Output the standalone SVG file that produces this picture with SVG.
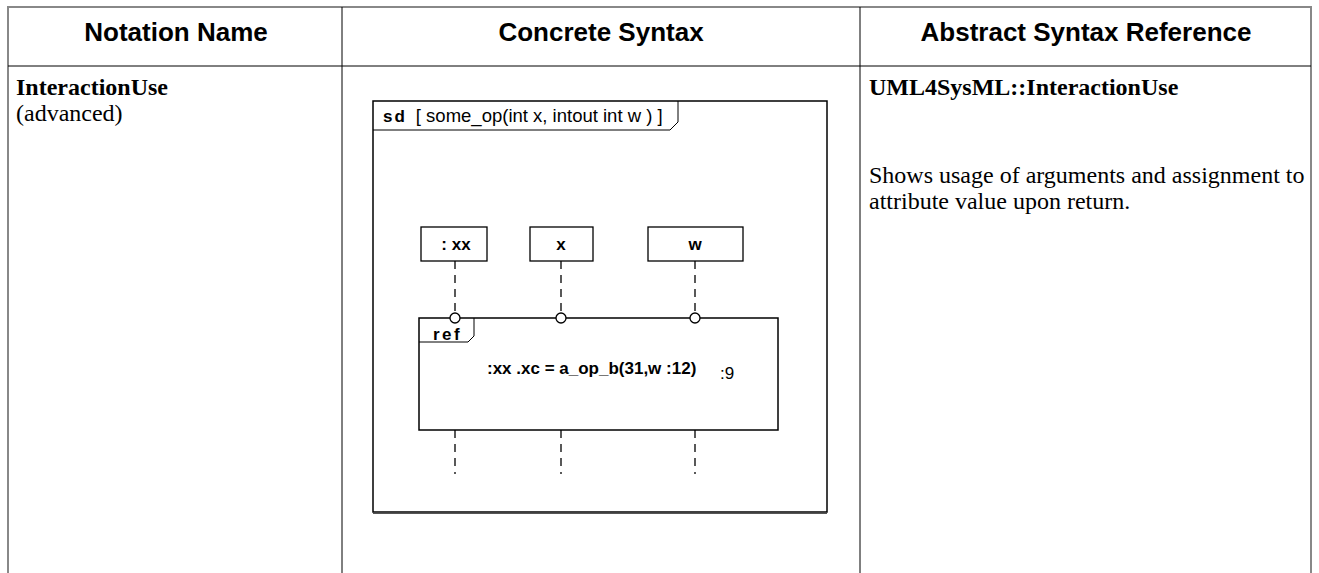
<svg xmlns="http://www.w3.org/2000/svg" width="1319" height="573" viewBox="0 0 1319 573">
<style>
.hdr{font-family:"Liberation Sans",Arial,sans-serif;font-weight:bold;font-size:26px;fill:#000;text-anchor:middle}
.body{font-family:"Liberation Serif","Times New Roman",serif;font-size:24px;fill:#000}
.b{font-weight:bold}
.dg{font-family:"Liberation Sans",Arial,sans-serif;font-size:17px;fill:#000}
.ln{stroke:#000;stroke-width:1;fill:none}
.frame{stroke:#000;stroke-width:1.5;fill:none}
.life{stroke:#000;stroke-width:1.3;stroke-dasharray:8 6;fill:none}
.box{stroke:#000;stroke-width:1.3;fill:#fff}
.gate{stroke:#000;stroke-width:1.3;fill:#fff}
</style>
<rect width="1319" height="573" fill="#fff"/>
<g id="table">
<path d="M8,573 V7 H1311 V573" stroke="#888" stroke-width="2" fill="none"/>
<line class="ln" x1="8" y1="66" x2="1311" y2="66"/>
<line class="ln" x1="342" y1="7" x2="342" y2="573"/>
<line class="ln" x1="860" y1="7" x2="860" y2="573"/>
<text class="hdr" x="176" y="41">Notation Name</text>
<text class="hdr" x="601" y="41">Concrete Syntax</text>
<text class="hdr" x="1086" y="41">Abstract Syntax Reference</text>
<text class="body b" x="16" y="95">InteractionUse</text>
<text class="body" x="16" y="121">(advanced)</text>
<text class="body b" x="869" y="95">UML4SysML::InteractionUse</text>
<text class="body" x="869" y="183">Shows usage of arguments and assignment to</text>
<text class="body" x="869" y="209">attribute value upon return.</text>
</g>
<g id="sd-frame">
<rect class="frame" x="373" y="101" width="454" height="411"/>
<line x1="373" y1="513.5" x2="827" y2="513.5" stroke="#555" stroke-width="1"/>
<path class="ln" d="M373,130 H670 L678,122 V101" stroke-width="1.3"/>
<text class="dg" x="383" y="122"><tspan font-weight="bold" letter-spacing="2">sd</tspan><tspan dx="9" font-size="18.5">[ some_op(int x, intout int w ) ]</tspan></text>
</g>
<g id="connectors">
<line class="life" x1="455" y1="261" x2="455" y2="313"/>
<line class="life" x1="561" y1="261" x2="561" y2="313"/>
<line class="life" x1="695" y1="261" x2="695" y2="313"/>
<line class="life" x1="455" y1="430" x2="455" y2="474"/>
<line class="life" x1="561" y1="430" x2="561" y2="474"/>
<line class="life" x1="695" y1="430" x2="695" y2="474"/>
</g>
<g id="lifeline-xx">
<rect class="box" x="421" y="227" width="66" height="34"/>
<text class="dg b" x="456" y="250" text-anchor="middle">: xx</text>
</g>
<g id="lifeline-x">
<rect class="box" x="530" y="227" width="63" height="34"/>
<text class="dg b" x="561" y="250" text-anchor="middle">x</text>
</g>
<g id="lifeline-w">
<rect class="box" x="648" y="227" width="95" height="34"/>
<text class="dg b" x="695" y="250" text-anchor="middle">w</text>
</g>
<g id="ref">
<rect x="419" y="318" width="359" height="112" stroke="#000" stroke-width="1.5" fill="none"/>
<path class="ln" d="M419,342 H468 L474,336 V318" stroke-width="1.3"/>
<text class="dg b" x="433" y="340" letter-spacing="2.5">ref</text>
<text class="dg b" x="487" y="374" font-size="19">:xx .xc = a_op_b(31,w :12)</text>
<text class="dg" x="720" y="379" font-size="17">:9</text>
<circle class="gate" cx="455" cy="318" r="5"/>
<circle class="gate" cx="561" cy="318" r="5"/>
<circle class="gate" cx="695" cy="318" r="5"/>
</g>
</svg>
